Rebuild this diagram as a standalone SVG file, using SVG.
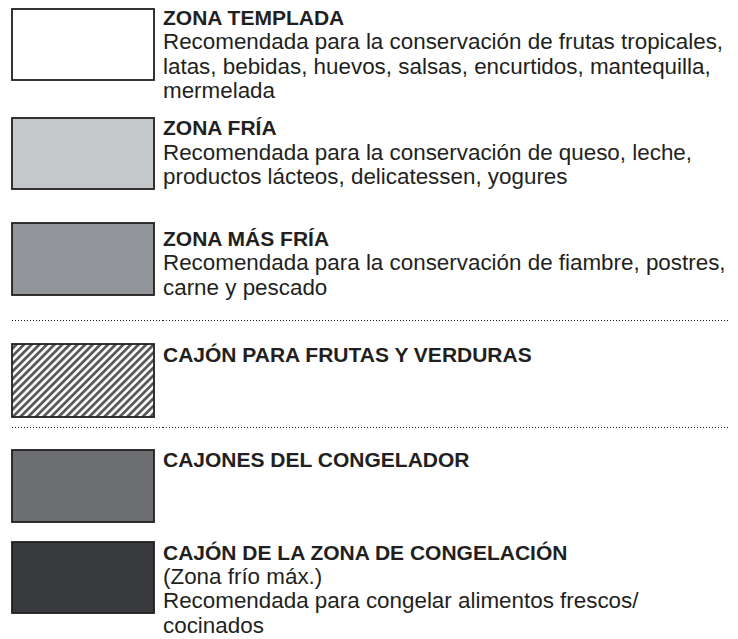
<svg xmlns="http://www.w3.org/2000/svg" width="738" height="639" viewBox="0 0 738 639">
<style>
.box{stroke:#231f20;stroke-width:1.8}
.t{font-family:"Liberation Sans",Arial,sans-serif;font-weight:bold;font-size:21px;fill:#231f20}
.b{font-family:"Liberation Sans",Arial,sans-serif;font-size:22.4px;fill:#231f20}
.dot{stroke:#231f20;stroke-width:1;stroke-dasharray:1 2;fill:none}
</style>
<defs>
<pattern id="hatch" patternUnits="userSpaceOnUse" width="5.4" height="5.4" patternTransform="rotate(45)">
<rect x="0" y="0" width="5.4" height="5.4" fill="#ffffff"/>
<rect x="0" y="0" width="2.8" height="5.4" fill="#58595b"/>
</pattern>
</defs>
<rect width="738" height="639" fill="#ffffff"/>
<g id="zona-templada">
<rect class="box" x="12" y="9" width="142" height="71" fill="#ffffff"/>
<text class="t" x="163" y="25">ZONA TEMPLADA</text>
<text class="b" x="163" y="49">Recomendada para la conservación de frutas tropicales,</text>
<text class="b" x="163" y="73.5">latas, bebidas, huevos, salsas, encurtidos, mantequilla,</text>
<text class="b" x="163" y="98">mermelada</text>
</g>
<g id="zona-fria">
<rect class="box" x="12" y="118" width="142" height="71" fill="#c5c8cb"/>
<text class="t" x="163" y="135">ZONA FRÍA</text>
<text class="b" x="163" y="159.5">Recomendada para la conservación de queso, leche,</text>
<text class="b" x="163" y="184">productos lácteos, delicatessen, yogures</text>
</g>
<g id="zona-mas-fria">
<rect class="box" x="12" y="223" width="142" height="72" fill="#929599"/>
<text class="t" x="163" y="245.5">ZONA MÁS FRÍA</text>
<text class="b" x="163" y="270">Recomendada para la conservación de fiambre, postres,</text>
<text class="b" x="163" y="294.5">carne y pescado</text>
</g>
<g id="cajon-frutas">
<rect class="box" x="12" y="344" width="142" height="73" fill="url(#hatch)"/>
<text class="t" x="163" y="362">CAJÓN PARA FRUTAS Y VERDURAS</text>
</g>
<g id="cajones-congelador">
<rect class="box" x="12" y="450" width="142" height="72" fill="#6d6e72"/>
<text class="t" x="163" y="467">CAJONES DEL CONGELADOR</text>
</g>
<g id="cajon-congelacion">
<rect class="box" x="12" y="542" width="142" height="71" fill="#393a3e"/>
<text class="t" x="163" y="559.5">CAJÓN DE LA ZONA DE CONGELACIÓN</text>
<text class="b" x="163" y="584">(Zona frío máx.)</text>
<text class="b" x="163" y="608.3">Recomendada para congelar alimentos frescos/</text>
<text class="b" x="163" y="632.5">cocinados</text>
</g>
<g id="separators">
<line class="dot" x1="12" y1="320.5" x2="163" y2="320.5"/>
<line class="dot" x1="163" y1="320.5" x2="730" y2="320.5"/>
<line class="dot" x1="12" y1="427.5" x2="163" y2="427.5"/>
<line class="dot" x1="163" y1="427.5" x2="730" y2="427.5"/>
</g>
</svg>
